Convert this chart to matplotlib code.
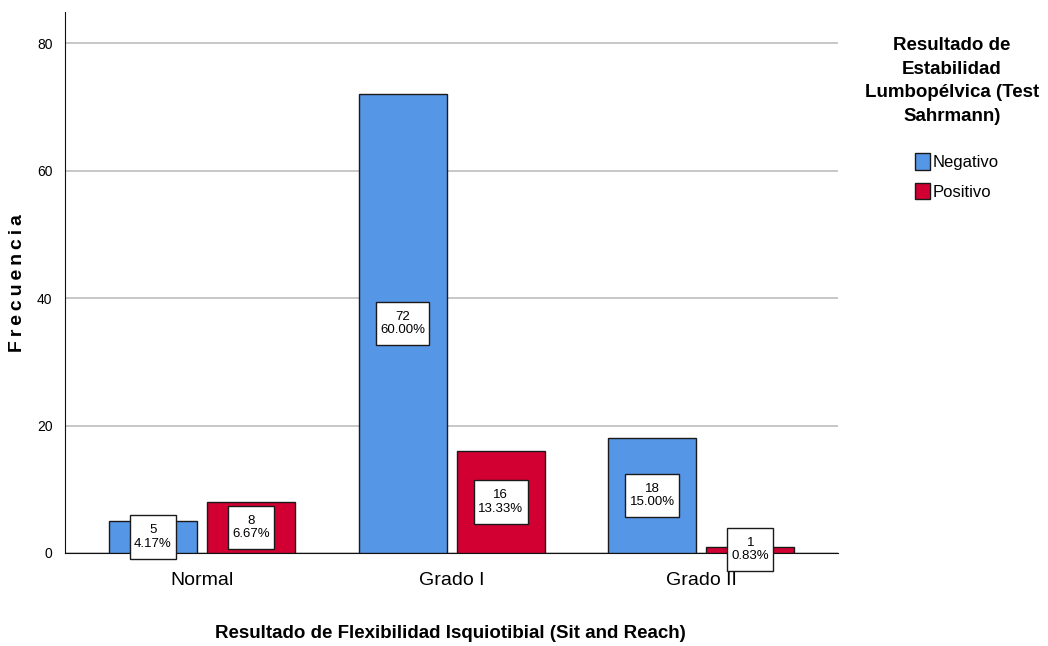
import matplotlib
matplotlib.use("Agg")
import matplotlib.pyplot as plt
from matplotlib.patches import Patch
from matplotlib.offsetbox import TextArea, VPacker, AnnotationBbox, DrawingArea
import numpy as np

categories = ["Normal", "Grado I", "Grado II"]
negativo = [5, 72, 18]
positivo = [8, 16, 1]
neg_pct = ["4.17%", "60.00%", "15.00%"]
pos_pct = ["6.67%", "13.33%", "0.83%"]
series_names = ["Negativo", "Positivo"]
yticks = [0, 20, 40, 60, 80]

FONT = "Liberation Sans"
blue = "#5596E6"
red = "#D20032"
edge = "#1a1a1a"

fig = plt.figure(figsize=(10.48, 6.46), dpi=100)
ax = fig.add_axes([0.062, 0.144, 0.738, 0.837])

x = np.arange(len(categories))
w = 0.353
off = 0.197


def value_box(xc, v, pct):
    txt = TextArea(f"{v}\n{pct}",
                   textprops=dict(fontsize=9.5, family=FONT, ha="center",
                                  multialignment="center", linespacing=1.15))
    stack = VPacker(children=[DrawingArea(0, 3.5), txt, DrawingArea(0, 3.5)],
                    align="center", pad=0, sep=0)
    ab = AnnotationBbox(stack, (xc, v / 2), xycoords="data", frameon=True, pad=0.12,
                        box_alignment=(0.5, 0.5), annotation_clip=False,
                        bboxprops=dict(boxstyle="square", fc="white", ec=edge, lw=1.0))
    ab.set_zorder(6)
    ax.add_artist(ab)


for vals, pcts, color, sign in [(negativo, neg_pct, blue, -1), (positivo, pos_pct, red, 1)]:
    bars = ax.bar(x + sign * off, vals, width=w, color=color, edgecolor=edge, linewidth=1.0, zorder=3)
    for b, v, p in zip(bars, vals, pcts):
        value_box(b.get_x() + b.get_width() / 2, v, p)

ax.set_xlim(-0.55, 2.55)
ax.set_ylim(0, 84.9)
ax.set_yticks(yticks)
ax.set_yticklabels([str(t) for t in yticks], family=FONT, fontsize=10)
ax.set_xticks(x)
ax.set_xticklabels(categories, family=FONT, fontsize=14)
ax.tick_params(axis="both", length=0)
ax.tick_params(axis="y", pad=9)
ax.tick_params(axis="x", pad=14)
ax.yaxis.grid(True, color="#bdbdbd", linewidth=1.2, zorder=0)
ax.set_axisbelow(True)
for s in ["top", "right"]:
    ax.spines[s].set_visible(False)
ax.spines["left"].set_color("#111111")
ax.spines["bottom"].set_color("#111111")

# spaced-out axis title on the left
fig.text(18 / 1048, 1 - 283 / 646, "\u2009".join("Frecuencia"), rotation=90,
         ha="center", va="center", fontsize=14, fontweight="bold", family=FONT)
fig.text(450 / 1048, 1 - 634 / 646, "Resultado de Flexibilidad Isquiotibial (Sit and Reach)",
         ha="center", va="center", fontsize=13.5, fontweight="bold", family=FONT)

# legend title and entries
fig.text(952 / 1048, 1 - 81 / 646, "Resultado de\nEstabilidad\nLumbopélvica (Test\nSahrmann)",
         ha="center", va="center", fontsize=13.5, fontweight="bold", family=FONT,
         linespacing=1.5)
handles = [Patch(facecolor=blue, edgecolor=edge), Patch(facecolor=red, edgecolor=edge)]
fig.legend(handles, series_names, loc="upper left", bbox_to_anchor=(912 / 1048, 1 - 150 / 646),
           frameon=False, prop={"family": FONT, "size": 12}, borderpad=0.2, borderaxespad=0,
           handlelength=0.85, handleheight=1.15, handletextpad=0.2, labelspacing=0.75)

fig.savefig("out.png", dpi=100)
